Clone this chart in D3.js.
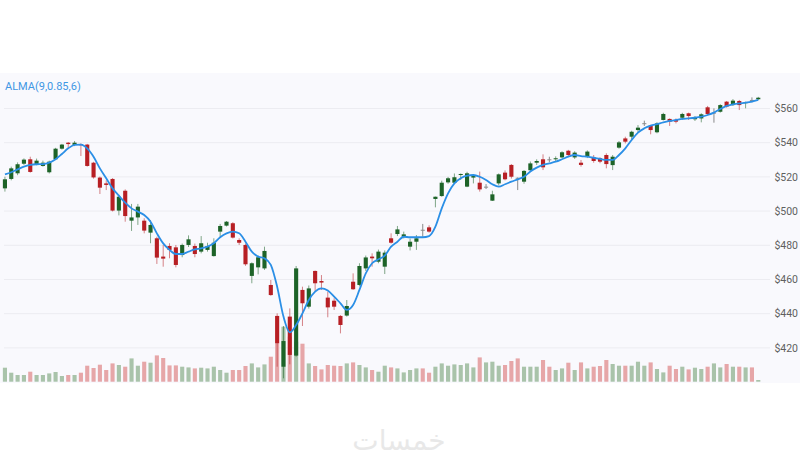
<!DOCTYPE html>
<html>
<head>
<meta charset="utf-8">
<script src="https://cdn.jsdelivr.net/npm/d3@7"></script>
<style>
  body { margin: 0; background: #fff; }
  svg { display: block; }
</style>
</head>
<body>
<svg width="800" height="460"></svg>
<script>
var opens = [513.3,518.8,522.1,527.7,530.3,527.5,526.4,522.7,530.3,536.5,540.0,538.7,539.2,538.9,528.3,519.6,516.2,518.8,500.3,511.9,
  494.4,496.3,494.4,487.4,484.1,473.4,479.6,478.8,474.3,480.2,479.6,476.3,477.3,473.7,488.0,491.5,492.9,483.1,480.2,462.1,
  467.1,466.5,456.8,438.7,409.0,438.3,415.5,453.9,444.1,465.0,459.1,449.4,447.6,438.7,438.9,458.7,456.8,466.5,473.4,470.4,
  467.5,484.1,486.6,485.0,479.2,482.1,489.1,490.5,507.1,508.8,516.8,516.6,521.1,514.3,519.6,516.6,514.2,506.1,516.2,522.5,
  527.0,519.5,517.2,523.9,528.3,530.3,530.3,530.3,531.4,535.3,531.4,528.3,531.8,531.3,530.9,532.8,526.9,537.1,542.5,543.5,
  547.4,551.3,550.0,546.1,553.3,553.9,553.3,554.6,557.2,553.7,554.2,560.7,557.5,558.1,564.0,562.0,564.4,563.1,565.0,565.4];
var highs = [520.1,526.0,528.5,530.8,531.8,530.7,529.5,529.5,537.0,539.3,540.4,541.0,539.6,539.3,528.8,520.2,518.0,519.3,509.5,512.7,
  504.2,504.2,495.8,494.8,485.0,480.2,481.2,480.2,481.0,485.8,481.0,485.4,481.5,484.1,492.5,494.2,493.5,484.1,481.0,470.0,
  474.0,479.2,459.7,440.2,432.8,443.1,467.9,455.8,456.5,465.2,462.6,452.9,449.0,439.2,448.0,463.6,469.5,474.0,475.3,477.5,
  477.0,487.0,491.3,488.0,484.0,486.0,492.5,491.7,508.5,517.8,520.0,522.0,522.0,523.0,521.1,523.1,515.8,511.9,522.0,523.8,
  527.5,519.7,524.0,529.0,530.3,533.2,531.8,532.0,535.0,535.8,535.0,529.9,535.5,532.8,531.5,533.8,532.8,541.0,543.5,547.0,
  550.3,552.9,550.4,552.0,557.5,554.2,554.2,557.5,557.6,555.6,557.2,561.5,560.1,562.5,564.4,565.5,565.0,564.0,566.5,566.8];
var lows = [511.4,518.0,521.0,527.0,522.5,526.8,526.0,522.0,530.0,536.0,536.7,538.0,532.2,526.0,519.0,510.0,512.3,499.8,497.5,493.8,
  488.4,491.9,487.0,481.2,469.1,467.5,472.4,467.1,473.0,479.0,473.0,475.3,476.3,473.4,485.0,491.0,484.0,480.2,468.0,457.8,
  463.0,465.6,450.5,409.0,402.2,410.4,414.9,432.8,443.0,452.9,453.9,437.9,442.2,428.5,438.3,453.9,456.0,465.0,467.5,469.5,
  463.2,481.0,485.4,484.0,477.0,477.3,485.0,487.4,502.2,508.4,516.0,516.0,518.2,514.0,516.2,511.4,512.9,505.9,515.0,518.0,
  519.0,512.3,516.0,523.0,527.0,524.0,528.5,529.0,531.0,532.0,530.5,526.0,531.0,528.3,528.0,525.0,524.0,536.5,539.6,542.0,
  545.9,549.8,544.9,545.5,553.0,549.8,551.3,553.3,553.3,552.7,551.9,556.0,551.7,557.6,560.5,561.5,559.1,560.1,563.6,565.0];
var closes = [518.6,525.0,527.4,530.1,522.9,529.5,528.3,528.9,536.5,538.9,539.2,540.0,538.5,526.4,519.7,513.7,515.3,500.3,508.4,497.1,
  496.3,502.6,488.6,491.9,472.8,472.2,477.3,468.5,480.2,483.5,474.9,481.2,479.6,481.5,491.3,493.8,484.5,481.5,468.9,469.5,
  473.0,476.7,450.9,422.7,424.0,415.9,466.5,446.1,454.8,457.8,458.2,443.7,444.1,433.4,444.5,454.3,467.9,472.9,472.4,476.3,
  475.7,481.5,489.3,486.4,482.1,484.1,488.9,488.0,508.4,516.6,519.2,519.8,521.7,522.1,520.5,512.7,514.3,509.8,521.5,518.6,
  520.1,519.4,523.5,527.9,529.3,525.6,530.2,530.9,534.4,532.8,534.2,527.0,534.8,529.3,528.9,527.5,531.8,540.2,540.6,546.4,
  548.8,551.4,547.4,551.3,556.8,552.3,552.3,556.8,555.6,554.8,556.6,556.8,557.6,562.0,561.1,564.6,562.0,563.7,564.9,566.3];
var volumes = [14,9,6.7,6.7,10,6.7,6.7,8.3,9.7,5.7,6.7,6.7,9,16,13.7,17,11.7,18.3,16.7,15,
  23.3,16,20,19,26.3,23.7,16.3,16.3,15,14.3,13.3,14,13.3,15,11.7,9,11.7,11.7,15.7,18.3,
  14.3,17.3,25,38.5,55,45,40,38,18.3,15.7,12.3,16.7,16,15.7,18.3,19.3,16.7,14.3,11.7,10,
  16,14.3,13.3,9.3,11.7,13.3,13.3,9,15,18.3,16,17.3,16.7,18.3,14.3,24.3,19.3,20,16,16.7,
  20.7,23.3,15,15,15,21.7,15,11.7,13.3,19,11.7,19.3,13.3,15,15.7,21.7,17.7,16,16,16,
  20,16,19.3,12.7,9.3,16,12.7,15,12.3,14,12.7,15,18.3,14.3,17.7,15,15,14.3,14.3,1.7];
var alma = [521.5,522.7,524.4,526.0,527.0,527.4,527.5,528.3,530.3,533.4,536.7,538.7,538.9,536.7,531.8,525.0,519.2,513.3,509.0,504.9,
  501.6,499.7,497.7,493.8,487.0,481.1,477.3,474.9,474.9,476.3,477.6,478.2,479.2,481.2,484.7,487.0,488.0,487.0,482.1,476.3,
  473.4,472.4,468.5,455.8,438.3,429.1,433.4,440.2,448.0,452.9,454.8,453.5,450.0,446.1,442.2,445.1,453.9,463.6,469.5,471.8,
  474.0,479.2,482.1,485.0,484.7,484.7,484.7,485.4,490.9,501.6,510.4,516.2,519.2,520.7,521.1,520.1,518.2,515.7,514.3,515.7,
  517.2,518.6,520.1,523.1,525.4,527.0,527.9,528.9,530.3,531.8,532.8,532.2,531.8,531.2,530.5,529.9,529.9,532.8,536.7,541.6,
  545.9,548.4,550.0,550.9,551.9,552.7,553.3,553.9,554.2,554.6,555.2,556.2,557.6,559.7,561.5,562.4,563.0,563.4,564.0,565.0];
var priceTicks = [420, 440, 460, 480, 500, 520, 540, 560];
var almaLabel = "ALMA(9,0.85,6)";

var candles = opens.map(function(o, i) {
  return {i: i, o: o, h: highs[i], l: lows[i], c: closes[i], v: volumes[i], a: alma[i]};
});

var svg = d3.select("svg");

svg.append("rect")
    .attr("x", 0).attr("y", 73)
    .attr("width", 800).attr("height", 310)
    .style("fill", "#f9f9fd");

var x = d3.scaleBand()
    .domain(candles.map(function(d) { return d.i; }))
    .range([1.8, 761.4])
    .paddingInner(0.35)
    .paddingOuter(0.17);

var y = d3.scaleLinear()
    .domain([400, 580])
    .range([382.1, 74.3]);

var yv = d3.scaleLinear()
    .domain([0, 60])
    .range([381.7, 321.7]);

function cx(d) { return x(d.i) + x.bandwidth() / 2; }
function dir(d) {
  if (Math.abs(d.c - d.o) < 0.3) return "doji";
  return d.c >= d.o ? "up" : "down";
}
var candleColor = {up: "#1d6328", down: "#b71f24", doji: "#8a8a8a"};
var volColor = {up: "#a9c3aa", down: "#e6a6a8"};

// grid + price labels
var grid = svg.append("g");
grid.selectAll("line")
    .data(priceTicks)
  .enter().append("line")
    .attr("x1", 4).attr("x2", 770)
    .attr("y1", function(d) { return y(d); })
    .attr("y2", function(d) { return y(d); })
    .style("stroke", "#ececf1")
    .style("stroke-width", 1);

grid.selectAll("text")
    .data(priceTicks)
  .enter().append("text")
    .attr("x", 798)
    .attr("y", function(d) { return y(d); })
    .attr("dy", ".35em")
    .attr("text-anchor", "end")
    .style("font-family", "Roboto, sans-serif")
    .style("font-size", "10.5px")
    .style("fill", "#5f5f5f")
    .text(function(d) { return "$" + d; });

// volume
svg.append("g").selectAll("rect")
    .data(candles)
  .enter().append("rect")
    .attr("x", function(d) { return x(d.i); })
    .attr("width", x.bandwidth())
    .attr("y", function(d) { return yv(d.v); })
    .attr("height", function(d) { return yv(0) - yv(d.v); })
    .style("fill", function(d) {
      return d.c >= d.o ? volColor.up : volColor.down;
    });

// candles
var g = svg.append("g").selectAll("g")
    .data(candles)
  .enter().append("g");

g.append("line")
    .attr("x1", cx).attr("x2", cx)
    .attr("y1", function(d) { return y(d.h); })
    .attr("y2", function(d) { return y(d.l); })
    .style("stroke", function(d) { return candleColor[dir(d)]; })
    .style("stroke-opacity", function(d) { return dir(d) == "doji" ? 1 : 0.55; })
    .style("stroke-width", 1);

g.append("rect")
    .attr("x", function(d) { return x(d.i); })
    .attr("width", x.bandwidth())
    .attr("y", function(d) { return y(Math.max(d.o, d.c)); })
    .attr("height", function(d) { return Math.max(1, Math.abs(y(d.o) - y(d.c))); })
    .style("fill", function(d) { return candleColor[dir(d)]; });

// ALMA line
var line = d3.line()
    .x(cx)
    .y(function(d) { return y(d.a); })
    .curve(d3.curveMonotoneX);

svg.append("path")
    .datum(candles)
    .attr("d", line)
    .style("fill", "none")
    .style("stroke", "#2b8fe6")
    .style("stroke-width", 1.8);

svg.append("text")
    .attr("x", 5).attr("y", 86)
    .attr("dy", ".35em")
    .style("font-family", "Roboto, sans-serif")
    .style("font-size", "11px")
    .style("fill", "#3f97e4")
    .text(almaLabel);

// watermark
svg.append("text")
    .attr("x", 399).attr("y", 450)
    .attr("text-anchor", "middle")
    .style("font-family", "DejaVu Sans, sans-serif")
    .style("font-size", "28px")
    .style("fill", "#e8e8e8")
    .text("خمسات");
</script>
</body>
</html>
